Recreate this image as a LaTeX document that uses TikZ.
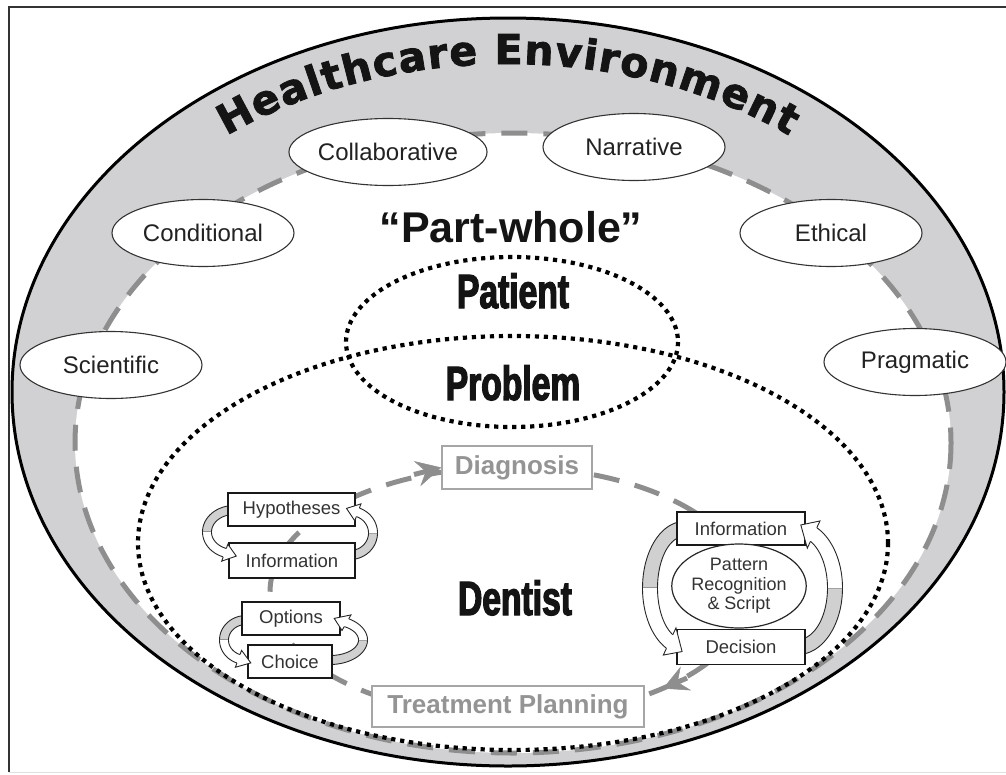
\documentclass[tikz,border=0pt]{standalone}
\usepackage{fontspec}
\setmainfont{Liberation Sans}
\newfontfamily\titlefont[FakeBold=2]{DejaVu Sans}
\newfontfamily\heavyfont[FakeStretch=0.7,FakeBold=2.6]{Liberation Sans}
\usetikzlibrary{decorations.text,arrows.meta,shapes.geometric}
\definecolor{band}{HTML}{D1D1D3}
\definecolor{dashgray}{HTML}{8E8E8E}
\definecolor{ink}{HTML}{222222}
\definecolor{ribgrey}{HTML}{D0D0D0}

% band of a curved ribbon arrow: cx cy rx ry t a0 a1 a2 (grey a0->a1, white a1->a2)
\newcommand\ribband[8]{%
  \pgfmathsetmacro\rOx{#3+#5/2}\pgfmathsetmacro\rOy{#4+#5/2}%
  \pgfmathsetmacro\rIx{#3-#5/2}\pgfmathsetmacro\rIy{#4-#5/2}%
  \filldraw[ribline,fill=ribgrey] plot[domain=#6:#7,samples=24] ({#1+\rOx*cos(\x)},{#2+\rOy*sin(\x)}) -- plot[domain=#7:#6,samples=24] ({#1+\rIx*cos(\x)},{#2+\rIy*sin(\x)}) -- cycle;
  \fill[white] plot[domain=#7:#8,samples=24] ({#1+\rOx*cos(\x)},{#2+\rOy*sin(\x)}) -- plot[domain=#8:#7,samples=24] ({#1+\rIx*cos(\x)},{#2+\rIy*sin(\x)}) -- cycle;
  \draw[ribline] plot[domain=#7:#8,samples=24] ({#1+\rOx*cos(\x)},{#2+\rOy*sin(\x)});
  \draw[ribline] plot[domain=#7:#8,samples=24] ({#1+\rIx*cos(\x)},{#2+\rIy*sin(\x)});
}
% head of a curved ribbon arrow: cx cy rx ry t a1 a2 L
\newcommand\ribhead[8]{%
  \pgfmathsetmacro\rs{sign(#7-#6)}%
  \pgfmathsetmacro\rtx{-(#3)*sin(#7)*\rs}\pgfmathsetmacro\rty{(#4)*cos(#7)*\rs}%
  \pgfmathsetmacro\rtn{veclen(\rtx,\rty)}%
  \pgfmathsetmacro\rpx{#1+#3*cos(#7)+#8*\rtx/\rtn}%
  \pgfmathsetmacro\rpy{#2+#4*sin(#7)+#8*\rty/\rtn}%
  \pgfmathsetmacro\rOx{#1+(#3+#5/2)*cos(#7)}\pgfmathsetmacro\rOy{#2+(#4+#5/2)*sin(#7)}%
  \pgfmathsetmacro\rIx{#1+(#3-#5/2)*cos(#7)}\pgfmathsetmacro\rIy{#2+(#4-#5/2)*sin(#7)}%
  \pgfmathsetmacro\rBx{#1+(#3+#5)*cos(#7)}\pgfmathsetmacro\rBy{#2+(#4+#5)*sin(#7)}%
  \pgfmathsetmacro\rCx{#1+(#3-#5)*cos(#7)}\pgfmathsetmacro\rCy{#2+(#4-#5)*sin(#7)}%
  \fill[white] (\rOx,\rOy) -- (\rBx,\rBy) -- (\rpx,\rpy) -- (\rCx,\rCy) -- (\rIx,\rIy) -- cycle;
  \draw[ribline,line join=miter] (\rOx,\rOy) -- (\rBx,\rBy) -- (\rpx,\rpy) -- (\rCx,\rCy) -- (\rIx,\rIy);
}

\begin{document}
\begin{tikzpicture}[x=1pt,y=-1pt,
  envell/.style={ellipse, draw=black!80, line width=1.1pt, fill=white, minimum width=182pt, minimum height=67pt, inner sep=0pt, text=ink, font=\fontsize{24}{28}\selectfont},
  cycbox/.style={rectangle, draw=black!90, line width=1.8pt, fill=white, inner sep=0pt, text=black!80, font=\fontsize{18.5}{21}\selectfont},
  stagebox/.style={rectangle, draw=black!35, line width=1.4pt, fill=white, inner sep=0pt, text=black!42, font=\bfseries\fontsize{26}{30}\selectfont},
  graydash/.style={draw=dashgray, line width=5pt, dash pattern=on 26pt off 16pt},
  dotline/.style={draw=black, line width=4.2pt, dash pattern=on 4.2pt off 4.8pt},
  heavy/.style={font=\heavyfont\bfseries\fontsize{48}{50}\selectfont, text=black!92, anchor=base, inner sep=0pt},
  ribline/.style={draw=black!85, line width=0.9pt},
  looparrow/.style={draw=dashgray, line width=5pt, -{Stealth[length=25pt,width=26pt,inset=9pt,line width=0.5pt]}}]
\useasboundingbox (0,0) rectangle (1006,774);
% frame
\draw[line width=1pt, black!12] (9,772) -- (1006,772);
\draw[line width=1.6pt, black!80] (1006,7) -- (9,7) -- (9,772);
% environment
\filldraw[fill=band, draw=black, line width=3pt] (508,392) ellipse [x radius=496, y radius=374];
\fill[white] (513,443) ellipse [x radius=438, y radius=310];
\draw[graydash] (513,443) ellipse [x radius=438, y radius=310];
\path[decorate, decoration={text along path, text={|\titlefont\bfseries\fontsize{41}{44}\selectfont\color{black!92}|Healthcare Environment}, text align={fit to path}}]
  plot[domain=231.5:308.5, samples=90] ({508+452*cos(\x)},{394+330*sin(\x)});
% reasoning types
\node[envell] (sci) at (111,365) {Scientific};
\node[envell] (cond) at (203,233) {Conditional};
\node[envell] (collab) at (388,152) {Collaborative};
\node[envell] (narr) at (634,147) {Narrative};
\node[envell] (eth) at (831,233) {Ethical};
\node[envell] (prag) at (915,362) {Pragmatic};
\node[anchor=base, inner sep=0pt, text=black!92, font=\bfseries\fontsize{43}{46}\selectfont] (pw) at (511,242) {“Part-whole”};
% dotted ellipses
\draw[dotline] (513,543) ellipse [x radius=375, y radius=207];
\draw[dotline] (512,342) ellipse [x radius=166, y radius=85];
\node[heavy] (pat) at (513,308) {Patient};
\node[heavy] (prob) at (513,400) {Problem};
\node[heavy] (dent) at (515,615) {Dentist};
% clinical loop
\draw[graydash] (510,592) ellipse [x radius=240, y radius=125];
\node[stagebox, minimum width=150pt, minimum height=43pt] (diag) at (517,467.5) {Diagnosis};
\node[stagebox, minimum width=272pt, minimum height=41pt] (treat) at (508,706.5) {Treatment Planning};
\coordinate (da) at (414,474.5);
\draw[looparrow] (da) -- (diag.west);
\coordinate (ta) at (687,678);
\coordinate (tt) at (663,688.5);
\draw[looparrow] (ta) -- (tt);
% ribbon bands
\ribband{234}{532}{27}{22}{9}{270}{180}{110}
\ribband{350}{533}{23}{22}{9}{90}{0}{-70}
\ribband{246}{640}{22}{20}{9}{270}{180}{110}
\ribband{330}{640}{33}{20}{9}{90}{0}{-60}
\ribband{684}{588}{34}{59}{15}{270}{180}{115}
\ribband{798}{588}{37}{59}{15}{90}{0}{-65}
% cycle boxes
\node[cycbox, minimum width=127pt, minimum height=33pt] (hyp) at (291.5,509.5) {Hypotheses};
\node[cycbox, minimum width=126pt, minimum height=35pt] (infoA) at (292,560.5) {Information};
\node[cycbox, minimum width=98pt, minimum height=33pt] (opt) at (291,618.5) {Options};
\node[cycbox, minimum width=84pt, minimum height=33pt] (choice) at (290,661.5) {Choice};
\node[cycbox, minimum width=128pt, minimum height=33pt] (infoB) at (741,528.5) {Information};
\node[cycbox, minimum width=128pt, minimum height=35pt] (dec) at (741,647) {Decision};
\node[ellipse, draw=black!85, line width=1.2pt, fill=white, minimum width=114pt, minimum height=84pt, inner sep=0pt, align=center, text=black!80, font=\fontsize{18}{19.5}\selectfont] (prs) at (739,586) {Pattern\\Recognition\\\& Script};
% ribbon heads
\ribhead{234}{532}{27}{22}{9}{180}{110}{12}
\ribhead{350}{533}{23}{22}{9}{0}{-70}{12}
\ribhead{246}{640}{22}{20}{9}{180}{110}{13}
\ribhead{330}{640}{33}{20}{9}{0}{-60}{13}
\ribhead{684}{588}{34}{59}{15}{180}{115}{16}
\ribhead{798}{588}{37}{59}{15}{0}{-65}{16}
\end{tikzpicture}
\end{document}
